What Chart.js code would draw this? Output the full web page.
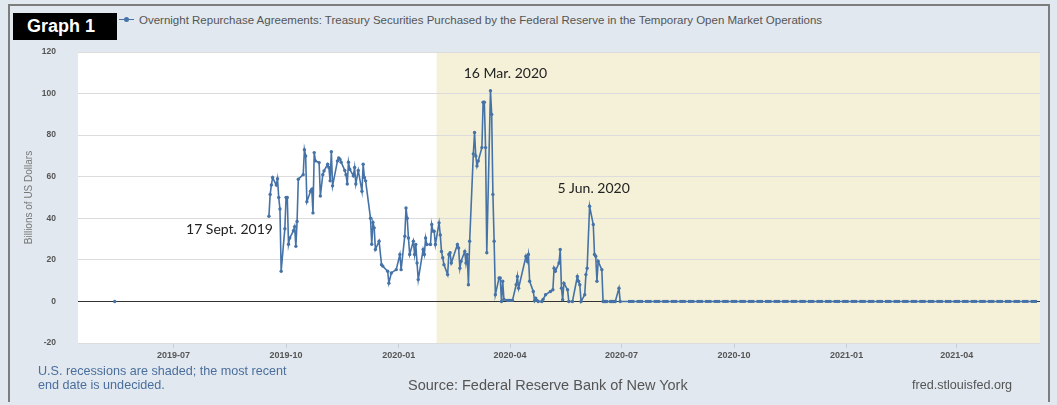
<!DOCTYPE html>
<html>
<head>
<meta charset="utf-8">
<script src="https://cdn.jsdelivr.net/npm/chart.js@4.4.1/dist/chart.umd.min.js"></script>
<style>
  body { margin: 0; background: #e1e8ef; font-family: "Liberation Sans", Arial, sans-serif; }
  #wrap { position: relative; width: 1057px; height: 405px; overflow: hidden; }
  #frame { position: absolute; left: 8px; top: 4px; width: 1042px; height: 398px; border: 2px solid #7d7d7d; border-bottom: none; box-sizing: border-box; }
  #badge { position: absolute; left: 13px; top: 13px; width: 104px; height: 27px; background: #000; color: #fff;
           font: bold 18px "Liberation Sans", Arial, sans-serif; line-height: 27px; padding-left: 14px; box-sizing: border-box; }
  #legend { position: absolute; left: 119px; top: 14px; font-size: 11.5px; color: #555; white-space: nowrap; }
  #legend .key { display: inline-block; width: 15px; height: 1px; background: #4572a7; vertical-align: middle; margin-right: 5px; position: relative; top: -1px; }
  #legend .key:after { content: ""; position: absolute; left: 5px; top: -2px; width: 5px; height: 5px; background: #4572a7; border-radius: 50%; }
  #note { position: absolute; left: 38px; top: 364px; font-size: 12.6px; line-height: 14px; color: #4a6f9c; }
  #source { position: absolute; left: 408px; top: 377px; font-size: 14.5px; color: #555; }
  #site { position: absolute; left: 912px; top: 378px; font-size: 12.6px; color: #555; }
  canvas { position: absolute; left: 0; top: 0; }
</style>
</head>
<body>
<div id="wrap">
  <div id="frame"></div>
  <div id="badge">Graph 1</div>
  <div id="legend"><span class="key"></span>Overnight Repurchase Agreements: Treasury Securities Purchased by the Federal Reserve in the Temporary Open Market Operations</div>
  <canvas id="chart" width="1057" height="405"></canvas>
  <div id="note">U.S. recessions are shaded; the most recent<br>end date is undecided.</div>
  <div id="source">Source: Federal Reserve Bank of New York</div>
  <div id="site">fred.stlouisfed.org</div>
</div>
<script>
const seriesDates = [
  '2019-05-14', '2019-05-15',
  '2019-09-17', '2019-09-18', '2019-09-19', '2019-09-20', '2019-09-23', '2019-09-24', '2019-09-25', '2019-09-26', '2019-09-27', '2019-09-30',
  '2019-10-01', '2019-10-02', '2019-10-03', '2019-10-04', '2019-10-07', '2019-10-08', '2019-10-09', '2019-10-10', '2019-10-11', '2019-10-15',
  '2019-10-16', '2019-10-17', '2019-10-18', '2019-10-21', '2019-10-22', '2019-10-23', '2019-10-24', '2019-10-25', '2019-10-28', '2019-10-29', '2019-10-31',
  '2019-11-01', '2019-11-04', '2019-11-05', '2019-11-06', '2019-11-07', '2019-11-08', '2019-11-12', '2019-11-13', '2019-11-14', '2019-11-15',
  '2019-11-18', '2019-11-19', '2019-11-20', '2019-11-21', '2019-11-22', '2019-11-25', '2019-11-26', '2019-11-27', '2019-11-29',
  '2019-12-02', '2019-12-03', '2019-12-04', '2019-12-05', '2019-12-09', '2019-12-10', '2019-12-11', '2019-12-12', '2019-12-13',
  '2019-12-16', '2019-12-18', '2019-12-19', '2019-12-23', '2019-12-24', '2019-12-26', '2019-12-30',
  '2020-01-02', '2020-01-03', '2020-01-06', '2020-01-07', '2020-01-08', '2020-01-09', '2020-01-10', '2020-01-13', '2020-01-14', '2020-01-15',
  '2020-01-16', '2020-01-17', '2020-01-21', '2020-01-22', '2020-01-23', '2020-01-24', '2020-01-27', '2020-01-28', '2020-01-29', '2020-01-30', '2020-01-31',
  '2020-02-03', '2020-02-04', '2020-02-05', '2020-02-06', '2020-02-07', '2020-02-10', '2020-02-11', '2020-02-12', '2020-02-13',
  '2020-02-18', '2020-02-19', '2020-02-20', '2020-02-21', '2020-02-24', '2020-02-25', '2020-02-26', '2020-02-27', '2020-02-28',
  '2020-03-02', '2020-03-03', '2020-03-04', '2020-03-05', '2020-03-06', '2020-03-09', '2020-03-10', '2020-03-11', '2020-03-12', '2020-03-13',
  '2020-03-16', '2020-03-17', '2020-03-18', '2020-03-19', '2020-03-20', '2020-03-23', '2020-03-24', '2020-03-25', '2020-03-26', '2020-03-27',
  '2020-03-30', '2020-03-31', '2020-04-01', '2020-04-02', '2020-04-03', '2020-04-06', '2020-04-07', '2020-04-08',
  '2020-04-14', '2020-04-15', '2020-04-16', '2020-04-17', '2020-04-20', '2020-04-21', '2020-04-22', '2020-04-23', '2020-04-24',
  '2020-04-27', '2020-04-28', '2020-04-30', '2020-05-04', '2020-05-06', '2020-05-07', '2020-05-08', '2020-05-11', '2020-05-12',
  '2020-05-13', '2020-05-14', '2020-05-15', '2020-05-18', '2020-05-19', '2020-05-22', '2020-05-26', '2020-05-27', '2020-05-28', '2020-05-29',
  '2020-06-01', '2020-06-02', '2020-06-03', '2020-06-05', '2020-06-08', '2020-06-09', '2020-06-10', '2020-06-11', '2020-06-12', '2020-06-15',
  '2020-06-16', '2020-06-17', '2020-06-18', '2020-06-19', '2020-06-22', '2020-06-23', '2020-06-24', '2020-06-25', '2020-06-26', '2020-06-29', '2020-06-30',
  '2020-07-09', '2020-07-16', '2020-07-23', '2020-07-30', '2020-08-06', '2020-08-13', '2020-08-20', '2020-08-27',
  '2020-09-03', '2020-09-10', '2020-09-17', '2020-09-24', '2020-10-01', '2020-10-08', '2020-10-15', '2020-10-22', '2020-10-29',
  '2020-11-05', '2020-11-12', '2020-11-19', '2020-11-26', '2020-12-03', '2020-12-10', '2020-12-17', '2020-12-24', '2020-12-31',
  '2021-01-07', '2021-01-14', '2021-01-21', '2021-01-28', '2021-02-04', '2021-02-11', '2021-02-18', '2021-02-25',
  '2021-03-04', '2021-03-11', '2021-03-18', '2021-03-25', '2021-04-01', '2021-04-08', '2021-04-15', '2021-04-22', '2021-04-29',
  '2021-05-06', '2021-05-13', '2021-05-20', '2021-05-27', '2021-06-03'
];
const seriesValues = [
  0, null,
  41, 51.5, 56, 59.6, 56, 59, 50, 44.5, 14.5, 35,
  50, 50, 27.5, 30.5, 34, 36, 26.5, 38.5, 58.8, 61,
  73, 70, 48, 53, 54, 42.6, 71.6, 67.6, 66.8, 50.7, 61,
  62.8, 66, 64.4, 58, 72, 55.6, 67.6, 69, 68.4, 67,
  63, 61, 56.5, 67, 63.6, 60.4, 64.4, 56.5, 63,
  53, 66, 59.6, 58, 40, 27.5, 38, 35.4, 25,
  29, 17.7, 17, 14.5, 8.8, 13.7, 15.3,
  22.6, 15.3, 31.4, 45, 40, 30.5, 22.6, 29, 22.6, 27.4,
  18.5, 10.5, 25, 22.6, 30.5, 27.4, 27.4, 37, 33.8, 33.8, 27.4,
  37.8, 32, 24, 21, 17.7, 12.9, 22.6, 23.4, 18.5,
  27.4, 25.7, 16, 19.3, 24, 18.5, 22.6, 8, 29,
  71, 81.3, 70, 65.2, 67.6, 74, 95.8, 95.8, 74, 23.4,
  101.4, 90, 51.5, 29, 3.2, 11.3, 11.3, 0, 9.7, 1,
  0.5, 0.5, 0.5, 0.5, 0.5, 8, 12, 6.4,
  21.7, 19.3, 22.6, 9.7, 4.8, 0.3, 1.6, 0.5, 0,
  0, 1, 3.2, 4.8, 5.6, 16, 14.5, 18.5, 25,
  6.4, 0.8, 8.8, 5.6, 0, 0, 12, 9.7, 8, 0,
  3.2, 12.9, 16, 45.8, 37, 22.6, 21.7, 9.7, 19.3, 15.3,
  0, 0, 0, 0, 0, 0, 0, 0, 0, 6.4, 0,
  0, 0, 0, 0, 0, 0, 0, 0,
  0, 0, 0, 0, 0, 0, 0, 0, 0,
  0, 0, 0, 0, 0, 0, 0, 0, 0,
  0, 0, 0, 0, 0, 0, 0, 0,
  0, 0, 0, 0, 0, 0, 0, 0, 0,
  0, 0, 0, 0, 0
];

const xMin = '2019-04-14';
const xMax = '2021-06-08';
const tickDates = ['2019-07-01', '2019-10-01', '2020-01-01', '2020-04-01', '2020-07-01', '2020-10-01', '2021-01-01', '2021-04-01'];
const tickLabels = ['2019-07', '2019-10', '2020-01', '2020-04', '2020-07', '2020-10', '2021-01', '2021-04'];
const recessionStart = '2020-02-01';
// à partir de juillet 2020 : relevés hebdomadaires, marqueurs en tirets
const weeklyFrom = '2020-07-01';

const noteLabels = ['17 Sept. 2019', '16 Mar. 2020', '5 Jun. 2020'];
const noteDates = ['2019-09-17', '2020-03-16', '2020-06-05'];

const blue = '#4572a7';

const points = seriesDates.map((d, i) => ({ x: Date.parse(d), y: seriesValues[i] }));
const isWeekly = c => c.raw && c.raw.x > Date.parse(weeklyFrom);

// fond blanc + zone de récession
const backdrop = {
  id: 'backdrop',
  beforeDraw(chart) {
    const { ctx, chartArea: a, scales } = chart;
    ctx.save();
    ctx.fillStyle = '#ffffff';
    ctx.fillRect(a.left, a.top, a.right - a.left, a.bottom - a.top);
    const x0 = scales.x.getPixelForValue(Date.parse(recessionStart));
    ctx.fillStyle = '#f5f1d9';
    ctx.fillRect(x0, a.top, a.right - x0, a.bottom - a.top);
    ctx.restore();
  }
};

// dates annotées
const notes = {
  id: 'notes',
  afterDatasetsDraw(chart) {
    const { ctx, scales } = chart;
    const shift = [[4, 13, 'right'], [15, -17, 'center'], [4, -18, 'center']];
    ctx.save();
    ctx.font = '14px Lato, "Open Sans", sans-serif';
    ctx.fillStyle = '#222';
    ctx.textBaseline = 'middle';
    noteLabels.forEach((label, i) => {
      const idx = seriesDates.indexOf(noteDates[i]);
      const px = scales.x.getPixelForValue(Date.parse(noteDates[i]));
      const py = scales.y.getPixelForValue(seriesValues[idx]);
      ctx.textAlign = shift[i][2];
      ctx.fillText(label, px + shift[i][0], py + shift[i][1]);
    });
    ctx.restore();
  }
};

new Chart(document.getElementById('chart'), {
  type: 'line',
  data: {
    datasets: [{
      data: points,
      borderColor: blue,
      backgroundColor: blue,
      borderWidth: 1.6,
      pointStyle: c => isWeekly(c) ? 'line' : 'circle',
      pointRadius: c => isWeekly(c) ? 3.2 : 1.7,
      pointBorderWidth: c => isWeekly(c) ? 3 : 0,
      pointBorderColor: blue,
      pointBackgroundColor: blue,
      tension: 0,
      spanGaps: false
    }]
  },
  options: {
    responsive: false,
    animation: false,
    devicePixelRatio: 1,
    layout: { padding: { left: 18, right: 17, top: 52, bottom: 42 } },
    plugins: { legend: { display: false }, tooltip: { enabled: false } },
    scales: {
      x: {
        type: 'linear',
        min: Date.parse(xMin),
        max: Date.parse(xMax),
        afterBuildTicks: scale => { scale.ticks = tickDates.map(d => ({ value: Date.parse(d) })); },
        afterFit: scale => { scale.height = 20; },
        grid: { drawOnChartArea: false, tickLength: 5, color: '#c8ced6' },
        border: { display: false },
        ticks: {
          autoSkip: false, maxRotation: 0, padding: 2,
          color: '#555', font: { size: 9, weight: 'bold', family: '"Liberation Sans", Arial' },
          callback: (v, i) => tickLabels[i]
        }
      },
      y: {
        min: -20, max: 120,
        afterFit: scale => { scale.width = 60; },
        grid: {
          drawTicks: false,
          color: c => (c.tick && c.tick.value === 0) ? '#333' : '#dcdcdc'
        },
        border: { display: false },
        ticks: { stepSize: 20, padding: 22, color: '#555', font: { size: 8.5, weight: 'bold', family: '"Liberation Sans", Arial' } },
        title: { display: true, text: 'Billions of US Dollars', color: '#777', font: { size: 10, family: '"Liberation Sans", Arial' }, padding: { top: 5, bottom: 0 } }
      }
    }
  },
  plugins: [backdrop, notes]
});
</script>
</body>
</html>
